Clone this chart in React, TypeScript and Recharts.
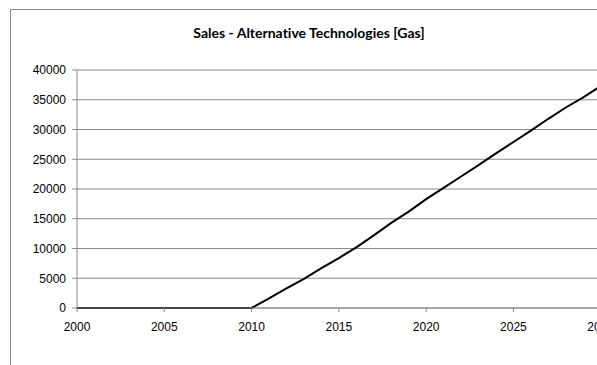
import React from "react";
import { LineChart, Line, XAxis, YAxis, CartesianGrid } from "recharts";

const years = [
  2000, 2001, 2002, 2003, 2004, 2005, 2006, 2007, 2008, 2009, 2010,
  2011, 2012, 2013, 2014, 2015, 2016, 2017, 2018, 2019, 2020,
  2021, 2022, 2023, 2024, 2025, 2026, 2027, 2028, 2029, 2030,
];
const sales = [
  0, 0, 0, 0, 0, 0, 0, 0, 0, 0, 0,
  1600, 3300, 4900, 6700, 8400, 10200, 12200, 14300, 16200, 18300,
  20200, 22100, 24000, 26000, 27900, 29800, 31800, 33700, 35400, 37300,
];
const xTicks = [2000, 2005, 2010, 2015, 2020, 2025, 2030, 2035];
const yTicks = [0, 5000, 10000, 15000, 20000, 25000, 30000, 35000, 40000];
const title = "Sales - Alternative Technologies [Gas]";

const data = years.map((y, i) => ({ year: y, sales: sales[i] }));

const tickStyle = { fontFamily: "'Liberation Sans', Arial, sans-serif", fontSize: 12, fill: "#000" };

export default function App() {
  return (
    <div style={{ position: "fixed", left: 0, top: 0, width: 597, height: 365, overflow: "hidden", background: "#fff" }}>
      <div
        style={{
          position: "absolute",
          left: 10,
          top: 9,
          width: 800,
          height: 500,
          border: "1px solid #8a8a8a",
          boxSizing: "border-box",
        }}
      />
      <div
        style={{
          position: "absolute",
          left: 109,
          width: 400,
          top: 23,
          textAlign: "center",
          fontFamily: "Lato, 'Open Sans', sans-serif",
          fontWeight: 700,
          fontSize: 14,
          lineHeight: "20px",
          color: "#000",
          whiteSpace: "nowrap",
          fontVariantLigatures: "none",
          fontFeatureSettings: "'liga' 0",
        }}
      >
        {title}
      </div>
      <div style={{ position: "absolute", left: 0, top: 0, width: 708, height: 365 }}>
        <LineChart width={708} height={365} data={data} margin={{ top: 70, right: 20, bottom: 27, left: 0 }}>
          <CartesianGrid vertical={false} stroke="#8a8a8a" strokeWidth={1} />
          <XAxis
            dataKey="year"
            type="number"
            domain={[2000, 2035]}
            ticks={xTicks}
            height={30}
            stroke="#8a8a8a"
            tickSize={4}
            tickMargin={10}
            tick={tickStyle}
            interval={0}
          />
          <YAxis
            type="number"
            domain={[0, 40000]}
            ticks={yTicks}
            width={77}
            stroke="#8a8a8a"
            tickSize={5}
            tickMargin={6}
            tick={tickStyle}
            interval={0}
          />
          <Line
            type="linear"
            dataKey="sales"
            stroke="#000"
            strokeWidth={2}
            dot={false}
            isAnimationActive={false}
          />
        </LineChart>
      </div>
    </div>
  );
}
